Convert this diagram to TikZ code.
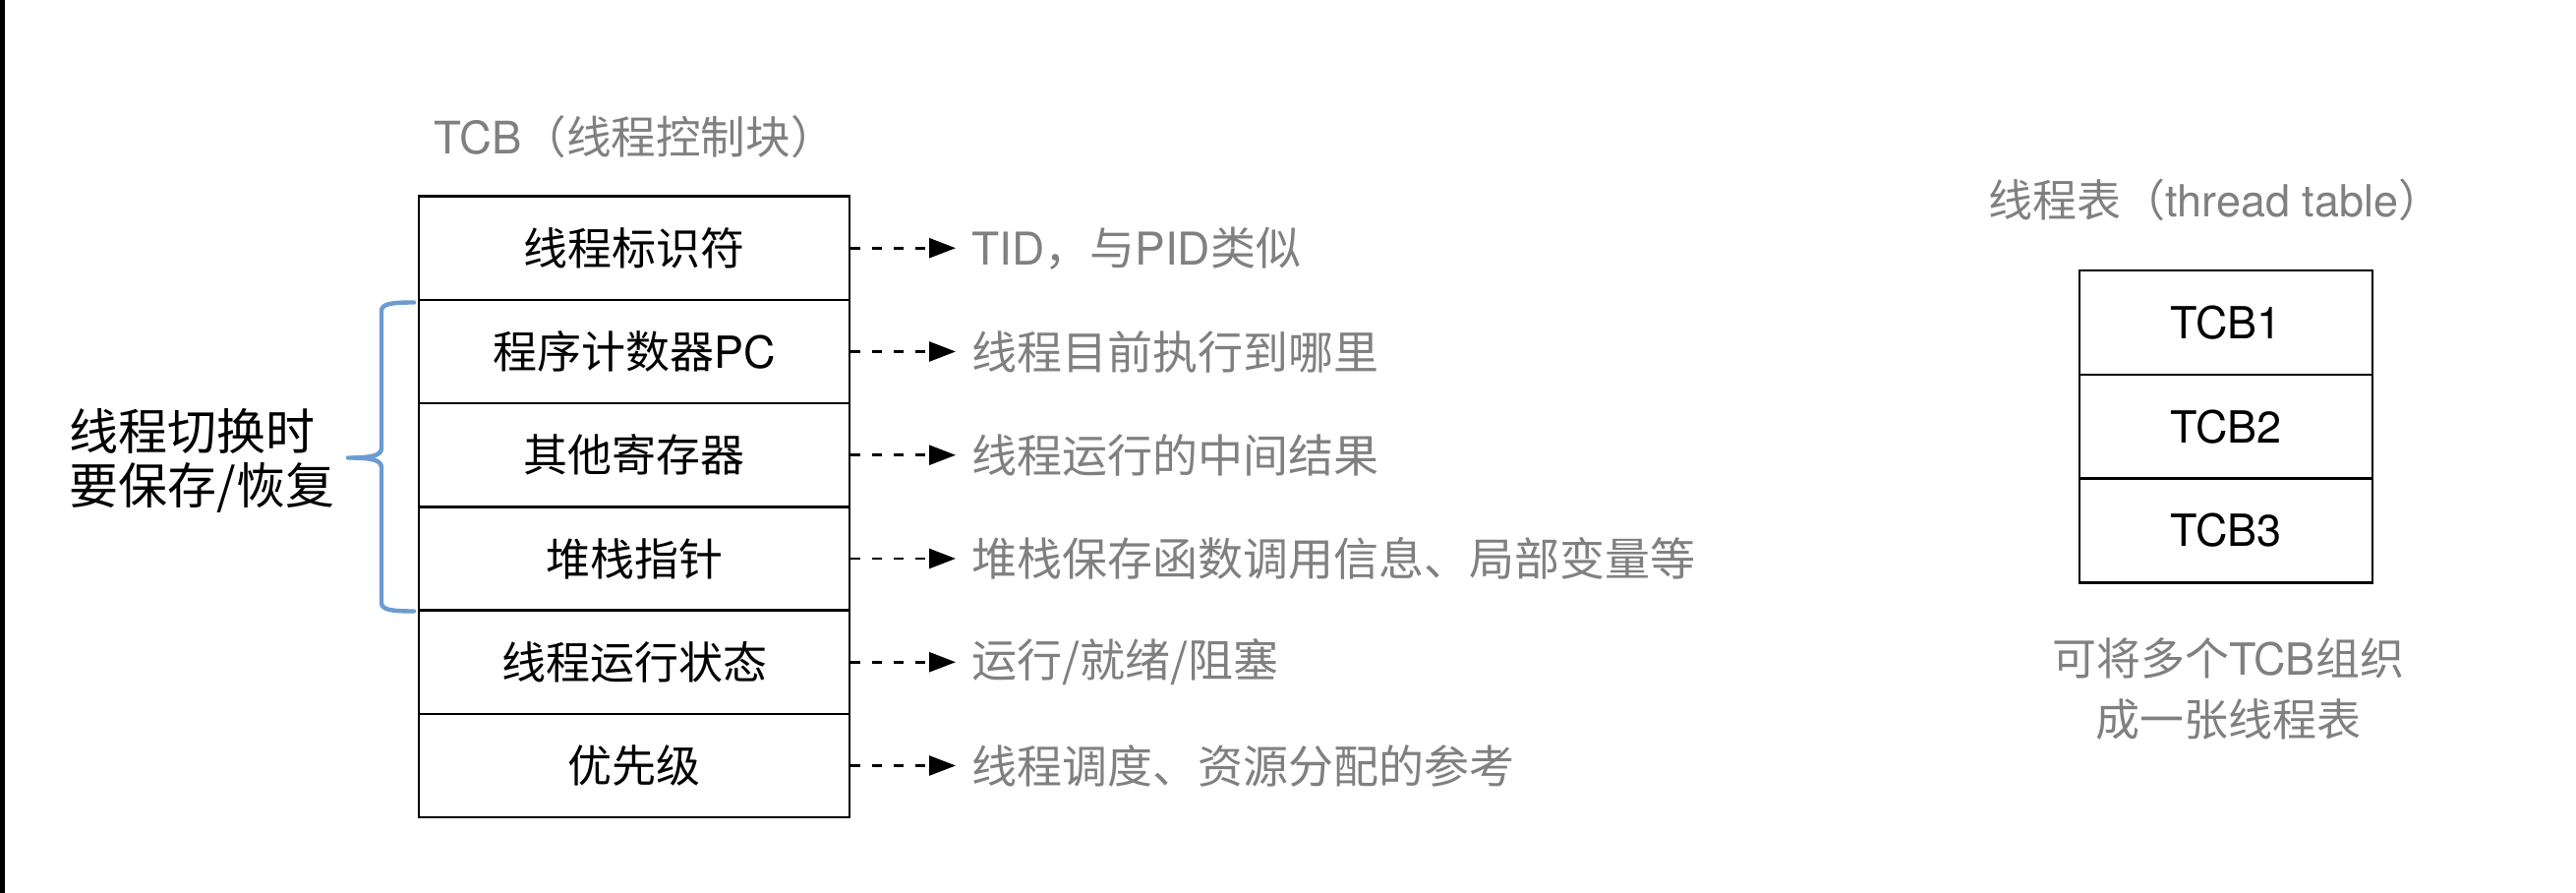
\documentclass[tikz,border=0pt]{standalone}
\usepackage{fontspec}
\setmainfont{TeX Gyre Heros}
\newfontfamily\cjk{Noto Sans CJK SC}
\usetikzlibrary{arrows.meta}
\definecolor{txtgray}{RGB}{128,128,128}
\definecolor{braceblue}{RGB}{108,155,210}
\tikzset{
  fnt/.style={font=\fontsize{22.5}{27}\selectfont},
  rowbox/.style={draw=black, line width=1.2pt, fill=white, minimum width=219pt, minimum height=52.625pt, inner sep=0pt, fnt},
  tblbox/.style={draw=black, line width=1.2pt, fill=white, minimum width=149pt, minimum height=52.9pt, inner sep=0pt, fnt},
  note/.style={anchor=west, inner xsep=8pt, inner ysep=0pt, text=txtgray, font=\fontsize{23}{27}\selectfont},
  link/.style={draw=black, line width=1.3pt, dash pattern=on 5pt off 6pt, -{Triangle[length=13.5pt, width=10pt]}},
}
\begin{document}
\begin{tikzpicture}[x=0.5pt, y=-0.5pt]
\useasboundingbox (0,0) rectangle (2620,908);
\fill[white] (0,0) rectangle (2620,908);
\fill[black] (0,0) rectangle (5,908);

% TCB title
\node[anchor=west, inner sep=0pt, text=txtgray, font=\fontsize{22.8}{27}\selectfont] (tcbtitle) at (441,139) {TCB{\cjk （线程控制块）}};

% TCB rows
\node[rowbox] (r1) at (645,252.25) {\cjk 线程标识符};
\node[rowbox] (r2) at (645,357.5) {{\cjk 程序计数器}PC};
\node[rowbox] (r3) at (645,462.75) {\cjk 其他寄存器};
\node[rowbox] (r4) at (645,568) {\cjk 堆栈指针};
\node[rowbox] (r5) at (645,673.25) {\cjk 线程运行状态};
\node[rowbox] (r6) at (645,778.5) {\cjk 优先级};

% notes
\node[note] (n1) at (972,252.25) {TID{\cjk ，与}PID{\cjk 类似}};
\node[note] (n2) at (972,357.5) {\cjk 线程目前执行到哪里};
\node[note] (n3) at (972,462.75) {\cjk 线程运行的中间结果};
\node[note] (n4) at (972,568) {\cjk 堆栈保存函数调用信息、局部变量等};
\node[note] (n5) at (972,673.25) {\cjk 运行/就绪/阻塞};
\node[note] (n6) at (972,778.5) {\cjk 线程调度、资源分配的参考};

\foreach \i in {1,...,6} {
  \draw[link] (r\i.east) -- (n\i.west);
}

% brace
\draw[braceblue, line width=2.2pt, line cap=round]
  (421,307.5) .. controls (398,307.5) and (388,309) .. (388,316)
  -- (388,455) .. controls (388,462) and (383,465.5) .. (354,465.5)
  (354,465.5) .. controls (383,465.5) and (388,469) .. (388,476)
  -- (388,613) .. controls (388,620) and (398,621.5) .. (421,621.5);

% left label
\node[align=left, anchor=west, inner sep=0pt, font=\cjk\fontsize{25}{27.5}\selectfont] (swlabel) at (70,468) {线程切换时\\要保存/恢复};

% thread table
\node[anchor=west, inner sep=0pt, text=txtgray, fnt] (tbltitle) at (2022,203) {{\cjk 线程表（}thread table{\cjk ）}};
\node[tblbox] (t1) at (2264,327.9) {TCB1};
\node[tblbox] (t2) at (2264,433.75) {TCB2};
\node[tblbox] (t3) at (2264,539.6) {TCB3};
\node[align=center, inner sep=0pt, text=txtgray, font=\fontsize{22.5}{31}\selectfont] (tblnote) at (2266,701) {{\cjk 可将多个}TCB{\cjk 组织}\\{\cjk 成一张线程表}};
\end{tikzpicture}
\end{document}
